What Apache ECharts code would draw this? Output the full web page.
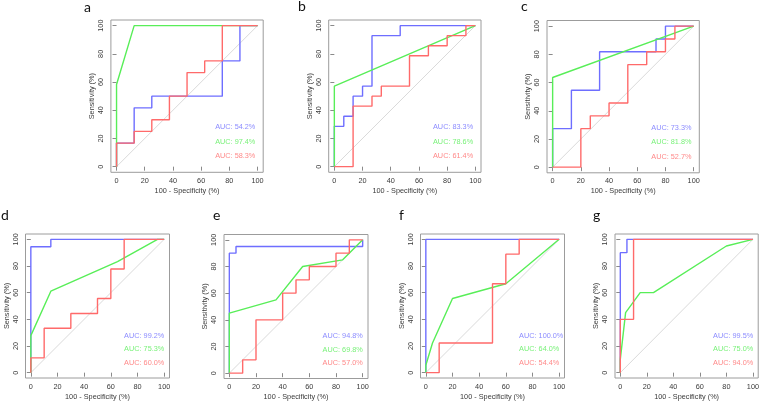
<!DOCTYPE html>
<html>
<head>
<meta charset="utf-8">
<script src="https://cdn.jsdelivr.net/npm/echarts@6/dist/echarts.min.js"></script>
<style>html,body{margin:0;padding:0;background:#fff}#c{width:762px;height:402px}</style>
</head>
<body>
<div id="c"></div>
<script>
// ---- data ----
const panelLetters = ['a','b','c','d','e','f','g'];
const tickValues = [0, 20, 40, 60, 80, 100];
const xAxisTitle = '100 - Specificity (%)';
const yAxisTitle = 'Sensitivity (%)';
const aucBlue  = ['54.2%','83.3%','73.3%','99.2%','94.8%','100.0%','99.5%'];
const aucGreen = ['97.4%','78.6%','81.8%','75.3%','69.8%','64.0%','75.0%'];
const aucRed   = ['58.3%','61.4%','52.7%','60.0%','57.0%','54.4%','94.0%'];
const diagonal = [[0,0],[100,100]];

const blueA = [[0,0],[0,16.7],[12.5,16.7],[12.5,41.7],[25,41.7],[25,50],[75,50],[75,75],[87.5,75],[87.5,100],[100,100]];
const greenA = [[0,0],[0,58.3],[12.5,100],[100,100]];
const redA = [[0,0],[0,16.7],[12.5,16.7],[12.5,25],[25,25],[25,33.3],[37.5,33.3],[37.5,50],[50,50],[50,66.7],[62.5,66.7],[62.5,75],[75,75],[75,100],[100,100]];

const blueB = [[0,0],[0,28.6],[6.7,28.6],[6.7,35.7],[13.3,35.7],[13.3,50],[20,50],[20,57.1],[26.7,57.1],[26.7,92.9],[46.7,92.9],[46.7,100],[100,100]];
const greenB = [[0,0],[0,57.1],[100,100]];
const redB = [[0,0],[13.3,0],[13.3,42.9],[26.7,42.9],[26.7,50],[33.3,50],[33.3,57.1],[53.3,57.1],[53.3,78.6],[66.7,78.6],[66.7,85.7],[80,85.7],[80,92.9],[93.3,92.9],[93.3,100],[100,100]];

const blueC = [[0,0],[0,27.3],[13.3,27.3],[13.3,54.5],[33.3,54.5],[33.3,81.8],[73.3,81.8],[73.3,90.9],[80,90.9],[80,100],[100,100]];
const greenC = [[0,0],[0,63.6],[100,100]];
const redC = [[0,0],[20,0],[20,27.3],[26.7,27.3],[26.7,36.4],[40,36.4],[40,45.5],[53.3,45.5],[53.3,72.7],[66.7,72.7],[66.7,81.8],[80,81.8],[80,90.9],[86.7,90.9],[86.7,100],[100,100]];

const blueD = [[0,0],[0,94.4],[15,94.4],[15,100],[100,100]];
const greenD = [[0,0],[0,27.8],[15,61.1],[65,83.3],[95,100],[100,100]];
const redD = [[0,0],[0,11.1],[10,11.1],[10,33.3],[30,33.3],[30,44.4],[50,44.4],[50,55.6],[60,55.6],[60,77.8],[70,77.8],[70,100],[100,100]];

const blueE = [[0,0],[0,90],[5,90],[5,95],[100,95],[100,100]];
const greenE = [[0,0],[0,45],[35,55],[55,80],[85,85],[100,100]];
const redE = [[0,0],[10,0],[10,10],[20,10],[20,40],[40,40],[40,60],[50,60],[50,70],[60,70],[60,80],[80,80],[80,90],[90,90],[90,100],[100,100]];

const blueF = [[0,0],[0,100],[100,100]];
const greenF = [[0,0],[0,5.6],[5,22.2],[20,55.6],[60,66.7],[100,100]];
const redF = [[0,0],[10,0],[10,22.2],[50,22.2],[50,66.7],[60,66.7],[60,88.9],[70,88.9],[70,100],[100,100]];

const blueG = [[0,0],[0,90],[5,90],[5,100],[100,100]];
const greenG = [[0,0],[0,10],[4,45],[15,60],[25,60],[80,95],[100,100]];
const redG = [[0,0],[0,40],[10,40],[10,100],[100,100]];

const blueCurves = [blueA, blueB, blueC, blueD, blueE, blueF, blueG];
const greenCurves = [greenA, greenB, greenC, greenD, greenE, greenF, greenG];
const redCurves = [redA, redB, redC, redD, redE, redF, redG];
const aucTextX = 70;
const aucTextY = [27.8, 17.6, 7.4];

// ---- layout / style ----
const panels = [
  {left: 110.9, top: 20, size: 152.3, lx: 88, ly: 9},
  {left: 328.7, top: 20, size: 152.3, lx: 302, ly: 8},
  {left: 547.0, top: 20.5, size: 152.3, lx: 525, ly: 8},
  {left: 25.5, top: 234, size: 144, lx: 5, ly: 217},
  {left: 224.0, top: 234.5, size: 144, lx: 217, ly: 217},
  {left: 420.5, top: 234, size: 144, lx: 403, ly: 217},
  {left: 615.0, top: 234, size: 144, lx: 597, ly: 217}
];
const COL_BLUE = '#6e6eff', COL_GREEN = '#58ee58', COL_RED = '#ff6a6a';
const FONT = 'Liberation Sans, Arial, sans-serif';
const FS = 7.3;

const grids = [], xAxes = [], yAxes = [], series = [], graphics = [];
panels.forEach((p, i) => {
  grids.push({left: p.left, top: p.top, width: p.size, height: p.size, show: true,
    borderColor: '#9c9c9c', borderWidth: 1, backgroundColor: 'transparent'});
  const axisCommon = {
    gridIndex: i, type: 'value', min: -4, max: 104,
    splitLine: {show: false},
    axisLine: {show: false},
    axisTick: {show: true, customValues: tickValues, length: 4, lineStyle: {color: '#8a8a8a'}},
    nameLocation: 'middle',
    nameTextStyle: {fontFamily: FONT, fontSize: FS, color: '#3a3a3a'}
  };
  xAxes.push(Object.assign({}, axisCommon, {
    name: xAxisTitle, nameGap: 15,
    axisLabel: {customValues: tickValues, margin: 5, fontFamily: FONT, fontSize: FS, color: '#3a3a3a'}
  }));
  yAxes.push(Object.assign({}, axisCommon, {
    name: yAxisTitle, nameGap: 15.5,
    axisLabel: {customValues: tickValues, margin: 6.5, rotate: 90, fontFamily: FONT, fontSize: FS, color: '#3a3a3a'}
  }));
  const lineBase = {type: 'line', xAxisIndex: i, yAxisIndex: i, showSymbol: false, symbol: 'none',
    silent: true, animation: false};
  series.push(Object.assign({}, lineBase, {data: diagonal, lineStyle: {color: '#dadada', width: 1}}));
  series.push(Object.assign({}, lineBase, {data: blueCurves[i], lineStyle: {color: COL_BLUE, width: 1.4}}));
  series.push(Object.assign({}, lineBase, {data: greenCurves[i], lineStyle: {color: COL_GREEN, width: 1.4}}));
  series.push(Object.assign({}, lineBase, {data: redCurves[i], lineStyle: {color: COL_RED, width: 1.4}}));
  const txt = [['AUC: ' + aucBlue[i], COL_BLUE], ['AUC: ' + aucGreen[i], COL_GREEN], ['AUC: ' + aucRed[i], COL_RED]];
  series.push({
    type: 'scatter', xAxisIndex: i, yAxisIndex: i, symbolSize: 0.1, silent: true, animation: false,
    itemStyle: {color: 'transparent'},
    data: txt.map((t, k) => ({
      value: [aucTextX, aucTextY[k]],
      label: {show: true, formatter: t[0], position: [0, 0], align: 'left', verticalAlign: 'middle',
        color: t[1], fontFamily: FONT, fontSize: FS}
    }))
  });
  graphics.push({type: 'text', left: p.lx - 4, top: p.ly - 9,
    style: {text: panelLetters[i], fontFamily: 'Lato, Open Sans, sans-serif', fontSize: 14, fill: '#111'}});
});

const chart = echarts.init(document.getElementById('c'), null, {renderer: 'canvas'});
chart.setOption({
  animation: false,
  backgroundColor: '#ffffff',
  grid: grids, xAxis: xAxes, yAxis: yAxes, series: series, graphic: graphics
});
</script>
</body>
</html>
